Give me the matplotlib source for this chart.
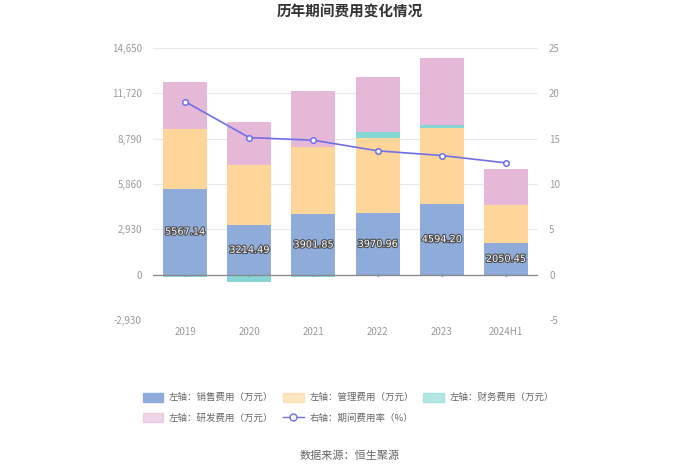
import matplotlib
matplotlib.use("Agg")
import matplotlib.pyplot as plt
import matplotlib.patheffects as pe
from matplotlib.patches import Patch
from matplotlib.lines import Line2D
import numpy as np

plt.rcParams['font.family'] = ['Noto Sans CJK SC', 'DejaVu Sans']
plt.rcParams['axes.unicode_minus'] = False

categories = ["2019", "2020", "2021", "2022", "2023", "2024H1"]
sales = [5567.14, 3214.49, 3901.85, 3970.96, 4594.20, 2050.45]
mgmt = [3870, 3885, 4324, 4892, 4873, 2465]
finance = [-150, -480, -130, 370, 194, -30]
rnd = [3033, 2756, 3627, 3569, 4344, 2323]
rate = [19.09, 15.12, 14.83, 13.66, 13.14, 12.33]

left_ticks = [-2930, 0, 2930, 5860, 8790, 11720, 14650]
right_ticks = [-5, 0, 5, 10, 15, 20, 25]

c_sales = "#8eabd9"
c_mgmt = "#ffd699"
c_fin = "#85d6d4"
c_rnd = "#e6b8d8"
c_line = "#7070e6"

fig = plt.figure(figsize=(7, 4.74), dpi=100)
ax = fig.add_axes([153/700, 1-320/474, 385/700, 272/474])
ax2 = ax.twinx()

x = np.arange(len(categories))
w = 0.685
sales_a = np.array(sales)
mgmt_a = np.array(mgmt)
fin_a = np.array(finance)
rnd_a = np.array(rnd)

ax.bar(x, sales_a, w, color=c_sales, zorder=3)
ax.bar(x, mgmt_a, w, bottom=sales_a, color=c_mgmt, zorder=3)
pos = sales_a + mgmt_a
fin_bottom = np.where(fin_a >= 0, pos, 0)
ax.bar(x, fin_a, w, bottom=fin_bottom, color=c_fin, zorder=3)
top = pos + np.where(fin_a >= 0, fin_a, 0)
ax.bar(x, rnd_a, w, bottom=top, color=c_rnd, zorder=3)

for xi, v in zip(x, sales):
    ax.text(xi, v/2, f"{v:.2f}", ha='center', va='center', fontsize=7, color='white',
            zorder=5, path_effects=[pe.withStroke(linewidth=1.6, foreground='#4a4a4a')],
            family=['DejaVu Sans'])

ax.set_xlim(-0.5, len(categories)-0.5)
ax.set_ylim(left_ticks[0], left_ticks[-1])
ax.set_yticks(left_ticks)
ax.set_yticklabels([f"{t:,}" for t in left_ticks])
ax2.set_ylim(right_ticks[0], right_ticks[-1])
ax2.set_yticks(right_ticks)

ax2.plot(x, rate, color=c_line, lw=1.2, marker='o', ms=4, mfc='white', mec=c_line, mew=1.1, zorder=6)

for a in (ax, ax2):
    for s in a.spines.values():
        s.set_visible(False)
    a.tick_params(axis='y', length=0, labelsize=7, colors='#999999', pad=8)
ax.set_axisbelow(True)
ax.grid(axis='y', color='#e8e8f0', lw=0.8, zorder=0)
ax.axhline(0, color='#888888', lw=0.9, zorder=4)
for xi in x:
    ax.plot([xi, xi], [0, -100], color='#888888', lw=0.8, zorder=4, clip_on=False)
ax.set_xticks(x)
ax.set_xticklabels(categories)
ax.tick_params(axis='x', length=0, labelsize=7, colors='#999999', pad=5)

fig.text(0.5, 1-12/474, "历年期间费用变化情况", ha='center', va='center', fontsize=10.5,
         fontweight='bold', color='#333333')
fig.text(0.5, 1-456/474, "数据来源：恒生聚源", ha='center', va='center', fontsize=8, color='#666666')

handles = [
    Patch(color=c_sales), Patch(color=c_rnd, alpha=0.6),
    Patch(color=c_mgmt, alpha=0.6), Line2D([], [], color=c_line, marker='o', mfc='white', mec=c_line, ms=5, lw=1),
    Patch(color=c_fin, alpha=0.6),
]
labels = ["左轴：销售费用（万元）", "左轴：研发费用（万元）", "左轴：管理费用（万元）",
          "右轴：期间费用率（%）", "左轴：财务费用（万元）"]
leg = fig.legend(handles, labels, ncol=3, loc='upper left', bbox_to_anchor=(134/700, 1-384/474),
                 frameon=False, fontsize=6.8, handlelength=2.2, handleheight=1.1,
                 columnspacing=1.0, labelspacing=1.15, handletextpad=0.6)
for t in leg.get_texts():
    t.set_color('#666666')

fig.savefig("out.png", dpi=100)
